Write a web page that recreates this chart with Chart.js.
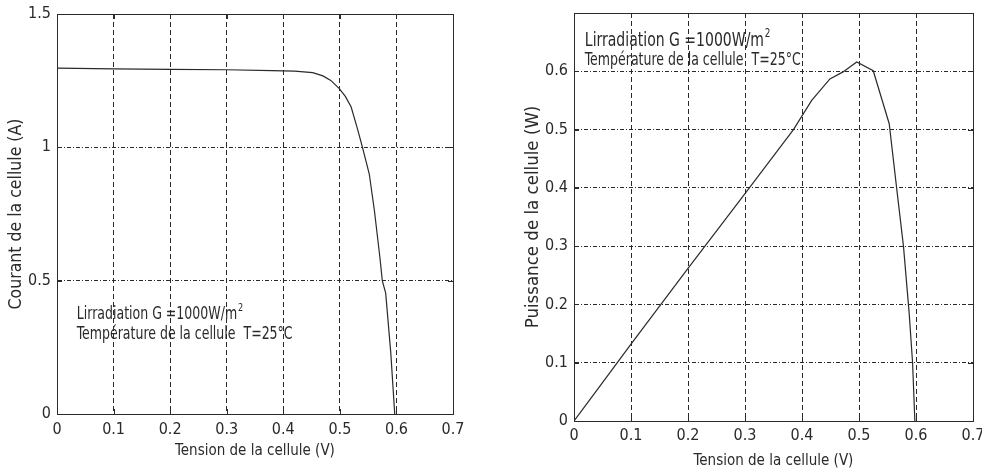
<!DOCTYPE html>
<html>
<head>
<meta charset="utf-8">
<script src="https://cdn.jsdelivr.net/npm/chart.js@4.4.1/dist/chart.umd.min.js"></script>
<style>
  html, body { margin: 0; padding: 0; background: #fff; }
  body { width: 982px; height: 470px; position: relative; overflow: hidden; }
  canvas { position: absolute; top: 0; }
  #ivChart { left: 0; }
  #pvChart { left: 490px; }
</style>
</head>
<body>
<canvas id="ivChart" width="490" height="470"></canvas>
<canvas id="pvChart" width="492" height="470"></canvas>
<script>
// courbe I-V
const ivTension = [0, 0.1, 0.2, 0.3, 0.38, 0.42, 0.452, 0.47, 0.484, 0.499, 0.51, 0.52, 0.531, 0.54, 0.552, 0.561, 0.571, 0.575, 0.581, 0.59, 0.597];
const ivCourant = [1.297, 1.294, 1.292, 1.291, 1.288, 1.286, 1.28, 1.268, 1.251, 1.22, 1.19, 1.151, 1.07, 1.0, 0.9, 0.764, 0.583, 0.5, 0.453, 0.23, 0];

// courbe P-V
const pvTension = [0, 0.05, 0.1, 0.2, 0.3, 0.385, 0.417, 0.449, 0.472, 0.496, 0.525, 0.553, 0.566, 0.578, 0.588, 0.594, 0.598];
const pvPuissance = [0, 0.066, 0.132, 0.262, 0.39, 0.5, 0.55, 0.587, 0.599, 0.616, 0.601, 0.51, 0.4, 0.3, 0.185, 0.1, 0];

// graduations
const tensionTicks = [0, 0.1, 0.2, 0.3, 0.4, 0.5, 0.6, 0.7];
const courantTicks = [0, 0.5, 1, 1.5];
const puissanceTicks = [0, 0.1, 0.2, 0.3, 0.4, 0.5, 0.6];

const noteLigne1 = 'Lirradiation G =1000W/m';
const noteLigne2 = 'Température de la cellule  T=25°C';

const FONT = "'DejaVu Sans Condensed', 'Liberation Sans Narrow', sans-serif";
const INK = '#2a2a2a';

function fmt(v) {
  return String(Number(v.toFixed(2)));
}

// cadre, petites graduations internes et textes
const cadrePlugin = {
  id: 'cadre',
  afterDraw(chart, args, opts) {
    const { ctx, chartArea: a } = chart;
    const xs = chart.scales.x, ys = chart.scales.y;
    ctx.save();
    ctx.strokeStyle = INK;
    ctx.lineWidth = 1;
    ctx.setLineDash([]);
    ctx.strokeRect(Math.round(a.left) + 0.5, Math.round(a.top) + 0.5, Math.round(a.width), Math.round(a.height));
    ctx.beginPath();
    xs.ticks.forEach(t => {
      const px = Math.round(xs.getPixelForValue(t.value)) + 0.5;
      ctx.moveTo(px, a.bottom); ctx.lineTo(px, a.bottom - 5);
      ctx.moveTo(px, a.top); ctx.lineTo(px, a.top + 5);
    });
    ys.ticks.forEach(t => {
      const py = Math.round(ys.getPixelForValue(t.value)) + 0.5;
      ctx.moveTo(a.left, py); ctx.lineTo(a.left + 5, py);
      ctx.moveTo(a.right, py); ctx.lineTo(a.right - 5, py);
    });
    ctx.stroke();

    // texte un peu étroit comme dans la figure d'origine
    const sx = 0.82;
    ctx.fillStyle = INK;
    ctx.textBaseline = 'alphabetic';
    (opts.notes || []).forEach(n => {
      const px = xs.getPixelForValue(n.x);
      const py = ys.getPixelForValue(n.y);
      ctx.save();
      ctx.translate(px, py);
      ctx.scale(sx, 1);
      ctx.font = n.size + 'px ' + FONT;
      ctx.fillText(n.text, 0, 0);
      if (n.sup) {
        const w = ctx.measureText(n.text).width;
        ctx.font = Math.round(n.size * 0.65) + 'px ' + FONT;
        ctx.fillText(n.sup, w + 1, -n.size * 0.5);
      }
      ctx.restore();
    });
    ctx.restore();
  }
};

function makeChart(id, xs, ys, yTicks, yMax, yTitle, geo, notes) {
  const ctx = document.getElementById(id).getContext('2d');
  return new Chart(ctx, {
    type: 'line',
    data: {
      datasets: [{
        data: xs.map((x, i) => ({ x: x, y: ys[i] })),
        borderColor: INK,
        borderWidth: 1.2,
        pointRadius: 0,
        tension: 0,
        fill: false
      }]
    },
    options: {
      responsive: false,
      animation: false,
      events: [],
      layout: { padding: { left: 0, top: geo.top, right: geo.right, bottom: 0 } },
      plugins: {
        legend: { display: false },
        tooltip: { enabled: false },
        cadre: { notes: notes }
      },
      scales: {
        x: {
          type: 'linear',
          min: 0,
          max: 0.7,
          afterBuildTicks: s => { s.ticks = tensionTicks.map(v => ({ value: v })); },
          afterFit: s => { s.height = geo.xHeight; s.paddingLeft = 0; s.paddingRight = 0; },
          grid: { color: INK, lineWidth: 1, drawTicks: false },
          border: { color: INK, dash: [5, 3] },
          ticks: {
            padding: geo.xPad,
            color: INK,
            font: { family: FONT, size: 16 },
            maxRotation: 0,
            callback: v => fmt(v)
          },
          title: {
            display: true,
            text: 'Tension de la cellule (V)',
            color: INK,
            font: { family: FONT, size: 15, lineHeight: 1 },
            padding: { top: 0, bottom: geo.xTitlePad }
          }
        },
        y: {
          type: 'linear',
          min: 0,
          max: yMax,
          afterBuildTicks: s => { s.ticks = yTicks.map(v => ({ value: v })); },
          afterFit: s => { s.width = geo.yWidth; s.paddingTop = 0; s.paddingBottom = 0; },
          grid: { color: INK, lineWidth: 1, drawTicks: false },
          border: { color: INK, dash: [4, 2, 1, 2] },
          ticks: {
            padding: 6,
            color: INK,
            font: { family: FONT, size: 16 },
            callback: v => fmt(v)
          },
          title: {
            display: true,
            text: yTitle,
            color: INK,
            font: { family: FONT, size: geo.yTitleSize, lineHeight: 1 },
            padding: { top: geo.yTitlePad, bottom: 0 }
          }
        }
      }
    },
    plugins: [cadrePlugin]
  });
}

makeChart('ivChart', ivTension, ivCourant, courantTicks, 1.5, 'Courant de la cellule (A)',
  { top: 14, right: 37, xHeight: 56, yWidth: 57, xPad: 6, xTitlePad: 11, yTitleSize: 17.5, yTitlePad: 8 },
  [
    { x: 0.035, y: 0.356, text: noteLigne1, sup: '2', size: 17 },
    { x: 0.035, y: 0.283, text: noteLigne2, size: 17 }
  ]);

makeChart('pvChart', pvTension, pvPuissance, puissanceTicks, 0.7, 'Puissance de la cellule (W)',
  { top: 13, right: 9, xHeight: 49, yWidth: 84, xPad: 5, xTitlePad: 1, yTitleSize: 18.5, yTitlePad: 34 },
  [
    { x: 0.019, y: 0.643, text: noteLigne1, sup: '2', size: 19 },
    { x: 0.019, y: 0.611, text: noteLigne2, size: 17 }
  ]);
</script>
</body>
</html>
